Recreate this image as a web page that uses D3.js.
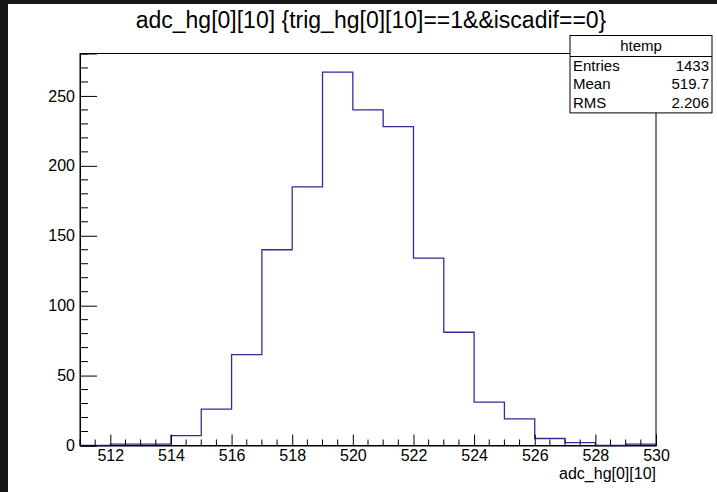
<!DOCTYPE html>
<html>
<head>
<meta charset="utf-8">
<script src="https://cdn.jsdelivr.net/npm/d3@7"></script>
<style>
  body { margin: 0; background: #161616; }
  svg { display: block; font-family: "Liberation Sans", Arial, sans-serif; }
</style>
</head>
<body>
<script>
'use strict'
// bin lower edges and contents
const binEdges = [511, 512, 513, 514, 515, 516, 517, 518, 519, 520, 521, 522, 523, 524, 525, 526, 527, 528, 529];
const counts = [0, 1, 1, 7, 26, 65, 140, 185, 267, 240, 228, 134, 81, 31, 19, 5, 2, 0, 1];
const xTicks = [512, 514, 516, 518, 520, 522, 524, 526, 528, 530];
const yTicks = [0, 50, 100, 150, 200, 250];
const statsLabels = ["Entries", "Mean", "RMS"];
const statsValues = ["1433", "519.7", "2.206"];

const w = 717, h = 492;
const padL = 80, padR = 656, padT = 53.5, padB = 445.5;

const svg = d3.select("body").append("svg")
	.attr("width", w)
	.attr("height", h);

svg.append("rect").attr("width", w).attr("height", h).attr("fill", "#161616");
svg.append("rect").attr("x", 8).attr("y", 4).attr("width", w - 8).attr("height", h - 4).attr("fill", "#fff");

const xScale = d3.scaleLinear().domain([511, 530]).range([padL, padR]);
const yScale = d3.scaleLinear().domain([0, 267 * 1.05]).range([padB, padT]);

// title
svg.append("text")
	.attr("x", 371)
	.attr("y", 28)
	.attr("text-anchor", "middle")
	.attr("font-size", 23)
	.text("adc_hg[0][10] {trig_hg[0][10]==1&&iscadif==0}");

// frame
svg.append("rect")
	.attr("x", padL).attr("y", padT)
	.attr("width", padR - padL).attr("height", padB - padT)
	.attr("fill", "none").attr("stroke", "#000").attr("stroke-width", 1);

// histogram step line
const pts = [[511, 0]];
binEdges.forEach((e, i) => { pts.push([e, counts[i]]); pts.push([e + 1, counts[i]]); });
pts.push([530, 0]);
svg.append("path")
	.datum(pts)
	.attr("fill", "none")
	.attr("stroke", "#2e2e9a")
	.attr("stroke-width", 1.3)
	.attr("d", d3.line().x(d => xScale(d[0])).y(d => yScale(d[1])));

// x axis
const xAxis = d3.axisBottom(xScale).tickValues(xTicks).tickSize(-11).tickPadding(5).tickFormat(d3.format("d"));
const gx = svg.append("g").attr("transform", "translate(0," + padB + ")").call(xAxis);
const xMinor = d3.range(511, 530.01, 0.5).filter(v => v % 2 !== 0);
gx.selectAll(".minor").data(xMinor).enter().append("line")
	.attr("x1", d => xScale(d)).attr("x2", d => xScale(d))
	.attr("y1", 0).attr("y2", -6).attr("stroke", "#000");

// y axis
const yAxis = d3.axisLeft(yScale).tickValues(yTicks).tickSize(-17).tickPadding(5);
const gy = svg.append("g").attr("transform", "translate(" + padL + ",0)").call(yAxis);
const yMinor = d3.range(0, 281, 10).filter(v => v % 50 !== 0);
gy.selectAll(".minor").data(yMinor).enter().append("line")
	.attr("x1", 0).attr("x2", 8)
	.attr("y1", d => yScale(d)).attr("y2", d => yScale(d)).attr("stroke", "#000");

[gx, gy].forEach(g => {
	g.select(".domain").attr("stroke", "#000");
	g.selectAll(".tick line").attr("stroke", "#000");
	g.selectAll(".tick text").attr("font-size", 16).attr("fill", "#000")
		.attr("font-family", "Liberation Sans, Arial, sans-serif");
});
gx.selectAll(".tick text").attr("dy", "0.68em");

// x axis title
svg.append("text")
	.attr("x", padR)
	.attr("y", 479)
	.attr("text-anchor", "end")
	.attr("font-size", 16)
	.text("adc_hg[0][10]");

// stats box
const bx = 570, by = 35.5, bw = 142, headH = 21, rowH = 18.8;
svg.append("rect").attr("x", bx).attr("y", by).attr("width", bw).attr("height", headH + rowH * 3)
	.attr("fill", "#fff").attr("stroke", "#000");
svg.append("line").attr("x1", bx).attr("x2", bx + bw).attr("y1", by + headH).attr("y2", by + headH).attr("stroke", "#000");
svg.append("text").attr("x", bx + bw / 2).attr("y", by + 15).attr("text-anchor", "middle").attr("font-size", 15).text("htemp");
statsLabels.forEach((s, i) => {
	svg.append("text").attr("x", bx + 3).attr("y", by + headH + rowH * i + 14).attr("font-size", 15).text(s);
	svg.append("text").attr("x", bx + bw - 3).attr("y", by + headH + rowH * i + 14).attr("text-anchor", "end").attr("font-size", 15).text(statsValues[i]);
});
</script>
</body>
</html>
